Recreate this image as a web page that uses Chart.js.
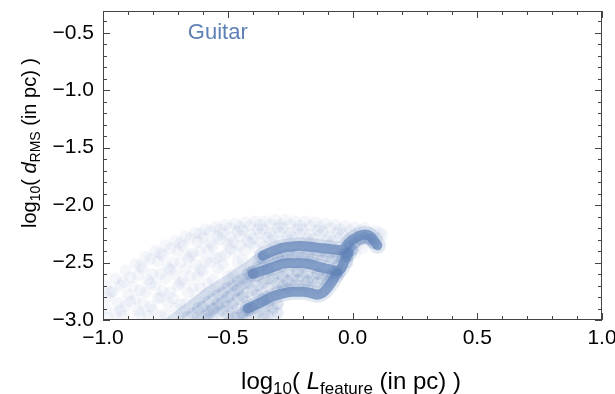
<!DOCTYPE html>
<html>
<head>
<meta charset="utf-8">
<script src="https://cdn.jsdelivr.net/npm/chart.js@4.4.0/dist/chart.umd.min.js"></script>
<style>
  html, body { margin: 0; padding: 0; background: #fff; }
  #wrap { width: 615px; height: 394px; }
</style>
</head>
<body>
<div id="wrap"><canvas id="myChart" width="615" height="394"></canvas></div>
<script>
// tick labels
const xTicks = [-1.0, -0.5, 0.0, 0.5, 1.0];
const yTicks = [-3.0, -2.5, -2.0, -1.5, -1.0, -0.5];

// thin cloud of points (log10 L, log10 d)
const cloudPoints = [
  [-0.99,-2.70],[-0.98,-2.80],[-0.99,-2.90],[-0.98,-2.98],
  [-0.95,-2.64],[-0.96,-2.75],[-0.94,-2.85],[-0.95,-2.94],
  [-0.91,-2.57],[-0.92,-2.67],[-0.90,-2.78],[-0.91,-2.88],[-0.92,-2.97],
  [-0.87,-2.51],[-0.86,-2.61],[-0.88,-2.71],[-0.87,-2.82],[-0.86,-2.92],
  [-0.83,-2.45],[-0.84,-2.55],[-0.82,-2.65],[-0.83,-2.76],[-0.84,-2.86],[-0.82,-2.96],
  [-0.79,-2.40],[-0.78,-2.49],[-0.80,-2.60],[-0.79,-2.70],[-0.78,-2.81],[-0.80,-2.91],
  [-0.75,-2.35],[-0.76,-2.44],[-0.74,-2.54],[-0.75,-2.64],[-0.76,-2.75],[-0.74,-2.85],[-0.75,-2.95],
  [-0.71,-2.31],[-0.70,-2.40],[-0.72,-2.50],[-0.71,-2.60],[-0.70,-2.70],[-0.72,-2.81],[-0.71,-2.90],
  [-0.67,-2.27],[-0.68,-2.36],[-0.66,-2.46],[-0.67,-2.56],[-0.68,-2.66],[-0.66,-2.76],[-0.67,-2.86],[-0.68,-2.97],
  [-0.63,-2.24],[-0.62,-2.32],[-0.64,-2.42],[-0.63,-2.52],[-0.62,-2.62],[-0.64,-2.72],[-0.63,-2.82],[-0.62,-2.92],
  [-0.59,-2.21],[-0.60,-2.29],[-0.58,-2.39],[-0.59,-2.49],[-0.60,-2.58],[-0.58,-2.68],[-0.59,-2.78],[-0.60,-2.88],[-0.58,-2.97],
  [-0.55,-2.19],[-0.54,-2.27],[-0.56,-2.36],[-0.55,-2.46],[-0.54,-2.55],[-0.56,-2.65],[-0.55,-2.75],[-0.54,-2.85],[-0.56,-2.95],
  [-0.51,-2.17],[-0.52,-2.25],[-0.50,-2.34],[-0.51,-2.43],[-0.52,-2.52],[-0.50,-2.62],[-0.51,-2.72],[-0.52,-2.82],[-0.50,-2.92],
  [-0.47,-2.16],[-0.46,-2.23],[-0.48,-2.32],[-0.47,-2.41],[-0.46,-2.50],[-0.48,-2.60],[-0.47,-2.70],[-0.46,-2.80],[-0.48,-2.90],[-0.47,-2.98],
  [-0.43,-2.15],[-0.44,-2.22],[-0.42,-2.31],[-0.43,-2.39],[-0.44,-2.48],[-0.42,-2.58],[-0.43,-2.68],[-0.44,-2.78],[-0.42,-2.88],[-0.43,-2.97],
  [-0.39,-2.14],[-0.38,-2.21],[-0.40,-2.29],[-0.39,-2.37],[-0.38,-2.47],[-0.40,-2.57],[-0.39,-2.67],[-0.38,-2.77],[-0.40,-2.87],[-0.39,-2.96],
  [-0.35,-2.14],[-0.36,-2.21],[-0.34,-2.28],[-0.35,-2.36],[-0.36,-2.46],[-0.34,-2.56],[-0.35,-2.66],[-0.36,-2.76],[-0.34,-2.86],[-0.35,-2.95],
  [-0.31,-2.13],[-0.30,-2.20],[-0.32,-2.27],[-0.31,-2.35],[-0.30,-2.45],[-0.32,-2.62],[-0.31,-2.70],[-0.30,-2.86],[-0.32,-2.94],
  [-0.27,-2.13],[-0.28,-2.20],[-0.26,-2.27],[-0.27,-2.43],[-0.28,-2.60],[-0.26,-2.66],[-0.27,-2.70],
  [-0.23,-2.14],[-0.22,-2.21],[-0.24,-2.28],[-0.23,-2.43],[-0.22,-2.58],[-0.24,-2.65],[-0.23,-2.69],
  [-0.19,-2.14],[-0.20,-2.21],[-0.18,-2.29],[-0.19,-2.43],[-0.20,-2.59],[-0.18,-2.66],[-0.19,-2.69],
  [-0.15,-2.15],[-0.14,-2.22],[-0.16,-2.29],[-0.15,-2.44],[-0.14,-2.60],[-0.16,-2.66],
  [-0.11,-2.16],[-0.12,-2.23],[-0.10,-2.30],[-0.11,-2.45],[-0.12,-2.61],[-0.10,-2.67],
  [-0.07,-2.17],[-0.06,-2.24],[-0.08,-2.31],[-0.07,-2.46],[-0.06,-2.52],[-0.08,-2.62],
  [-0.03,-2.18],[-0.04,-2.25],[-0.02,-2.32],[-0.03,-2.44],[-0.04,-2.53],
  [0.01,-2.19],[0.00,-2.26],[0.02,-2.35],[0.01,-2.42],
  [0.05,-2.20],[0.06,-2.31],[0.04,-2.38],
  [0.09,-2.22],[0.10,-2.29],[0.12,-2.26],
  [-0.97,-2.76],[-0.93,-2.70],[-0.93,-2.92],[-0.89,-2.63],[-0.89,-2.84],[-0.85,-2.53],[-0.85,-2.74],[-0.85,-2.95],
  [-0.81,-2.47],[-0.81,-2.68],[-0.81,-2.88],[-0.77,-2.42],[-0.77,-2.60],[-0.77,-2.80],[-0.77,-2.97],
  [-0.73,-2.38],[-0.73,-2.56],[-0.73,-2.76],[-0.69,-2.33],[-0.69,-2.50],[-0.69,-2.68],[-0.69,-2.86],
  [-0.65,-2.29],[-0.65,-2.44],[-0.65,-2.62],[-0.61,-2.25],[-0.61,-2.40],[-0.61,-2.56],[-0.61,-2.72],
  [-0.57,-2.23],[-0.57,-2.33],[-0.57,-2.50],[-0.53,-2.21],[-0.53,-2.30],[-0.53,-2.45],
  [-0.49,-2.20],[-0.49,-2.28],[-0.49,-2.38],[-0.45,-2.19],[-0.45,-2.27],[-0.45,-2.35],
  [-0.41,-2.18],[-0.41,-2.25],[-0.41,-2.33],[-0.37,-2.17],[-0.37,-2.25],[-0.37,-2.32],
  [-0.33,-2.17],[-0.33,-2.24],[-0.33,-2.31],[-0.29,-2.17],[-0.29,-2.24],[-0.29,-2.31],
  [-0.25,-2.17],[-0.25,-2.24],[-0.25,-2.31],[-0.21,-2.18],[-0.21,-2.25],[-0.21,-2.31],
  [-0.17,-2.18],[-0.17,-2.25],[-0.17,-2.32],[-0.13,-2.19],[-0.13,-2.26],[-0.13,-2.33],
  [-0.09,-2.20],[-0.09,-2.27],[-0.09,-2.34],[-0.05,-2.21],[-0.05,-2.28],[-0.05,-2.35],
  [-0.01,-2.22],[-0.01,-2.29],[0.03,-2.22],[0.07,-2.24],[0.11,-2.24]
];

// denser wedge under the bands
const wedgePoints = [
  [-0.66,-2.97],
  [-0.62,-2.90],[-0.62,-2.97],
  [-0.58,-2.84],[-0.58,-2.92],[-0.58,-2.99],
  [-0.54,-2.78],[-0.54,-2.86],[-0.54,-2.94],
  [-0.50,-2.72],[-0.50,-2.80],[-0.50,-2.88],[-0.50,-2.96],
  [-0.46,-2.66],[-0.46,-2.74],[-0.46,-2.82],[-0.46,-2.90],[-0.46,-2.98],
  [-0.42,-2.60],[-0.42,-2.68],[-0.42,-2.76],[-0.42,-2.84],[-0.42,-2.92],[-0.42,-2.99],
  [-0.38,-2.54],[-0.38,-2.62],[-0.38,-2.70],[-0.38,-2.78],[-0.38,-2.86],[-0.38,-2.94],
  [-0.34,-2.48],[-0.34,-2.56],[-0.34,-2.64],[-0.34,-2.72],[-0.34,-2.80],[-0.34,-2.88],[-0.34,-2.96],
  [-0.30,-2.45],[-0.30,-2.60],[-0.30,-2.68],[-0.30,-2.74],[-0.30,-2.86],[-0.30,-2.94],
  [-0.26,-2.43],[-0.26,-2.58],[-0.26,-2.66],[-0.26,-2.72],
  [-0.22,-2.42],[-0.22,-2.58],[-0.22,-2.65],[-0.22,-2.70],
  [-0.18,-2.43],[-0.18,-2.59],[-0.18,-2.66],[-0.18,-2.71],
  [-0.14,-2.44],[-0.14,-2.60],[-0.14,-2.67],[-0.14,-2.72],
  [-0.10,-2.45],[-0.10,-2.61],[-0.10,-2.66],
  [-0.06,-2.45],[-0.06,-2.52],[-0.06,-2.62],
  [-0.02,-2.44],[-0.02,-2.50],[-0.04,-2.45],
  [-0.64,-2.94],[-0.60,-2.88],[-0.56,-2.82],[-0.56,-2.90],[-0.52,-2.76],[-0.52,-2.92],
  [-0.48,-2.70],[-0.48,-2.86],[-0.44,-2.64],[-0.44,-2.80],[-0.44,-2.95],[-0.40,-2.58],
  [-0.40,-2.74],[-0.40,-2.90],[-0.36,-2.52],[-0.36,-2.68],[-0.36,-2.82],[-0.36,-2.97],
  [-0.32,-2.47],[-0.32,-2.64],[-0.32,-2.90],[-0.28,-2.45],[-0.28,-2.62],[-0.28,-2.70],
  [-0.24,-2.44],[-0.24,-2.62],[-0.20,-2.45],[-0.20,-2.62],[-0.16,-2.46],[-0.16,-2.63],
  [-0.12,-2.47],[-0.12,-2.64],[-0.08,-2.47],[-0.08,-2.60]
];

// faint stripes running down to the lower left, one per track
const stripeTop = [
  [-0.73,-3.02],[-0.69,-2.95],[-0.66,-2.90],[-0.63,-2.85],[-0.60,-2.80],[-0.57,-2.75],
  [-0.54,-2.71],[-0.51,-2.67],[-0.48,-2.63],[-0.45,-2.58],[-0.42,-2.54],[-0.39,-2.49],[-0.36,-2.44]
];
const stripeMid = [
  [-0.62,-3.02],[-0.60,-2.98],[-0.57,-2.93],[-0.54,-2.88],[-0.51,-2.83],[-0.48,-2.77],
  [-0.45,-2.71],[-0.42,-2.65],[-0.40,-2.60]
];
const stripeLow = [
  [-0.50,-3.02],[-0.47,-2.97],[-0.45,-2.95],[-0.42,-2.90]
];

// the three dense tracks
const topBand = [
  [-0.36,-2.44],[-0.34,-2.42],[-0.32,-2.40],[-0.30,-2.385],[-0.28,-2.37],[-0.26,-2.365],
  [-0.24,-2.36],[-0.22,-2.355],[-0.20,-2.355],[-0.18,-2.36],[-0.16,-2.365],[-0.14,-2.37],
  [-0.12,-2.375],[-0.10,-2.38],[-0.08,-2.385],[-0.06,-2.39],[-0.04,-2.39],[-0.03,-2.37],
  [-0.02,-2.34],[-0.01,-2.32],[0.00,-2.30],[0.01,-2.29],[0.02,-2.275],[0.03,-2.265],
  [0.04,-2.26],[0.05,-2.255],[0.06,-2.26],[0.07,-2.27],[0.08,-2.29],[0.09,-2.32],[0.10,-2.35]
];
const hookPoints = [
  [-0.01,-2.36],[0.01,-2.33],[0.03,-2.30],[0.05,-2.29],[0.07,-2.30],[0.085,-2.33],
  [-0.03,-2.42],[-0.02,-2.45],[0.00,-2.39]
];
const midBand = [
  [-0.40,-2.60],[-0.38,-2.585],[-0.36,-2.57],[-0.34,-2.555],[-0.32,-2.54],[-0.30,-2.525],
  [-0.28,-2.51],[-0.26,-2.505],[-0.24,-2.505],[-0.22,-2.505],[-0.20,-2.505],[-0.18,-2.51],
  [-0.16,-2.52],[-0.14,-2.535],[-0.12,-2.545],[-0.10,-2.555],[-0.08,-2.565],[-0.06,-2.575],
  [-0.045,-2.55],[-0.035,-2.50],[-0.025,-2.45],[-0.015,-2.41]
];
const lowBand = [
  [-0.42,-2.90],[-0.40,-2.88],[-0.38,-2.86],[-0.36,-2.84],[-0.34,-2.815],[-0.32,-2.795],
  [-0.30,-2.78],[-0.28,-2.77],[-0.26,-2.76],[-0.24,-2.755],[-0.22,-2.755],[-0.20,-2.755],
  [-0.18,-2.76],[-0.16,-2.77],[-0.14,-2.78],[-0.12,-2.765],[-0.10,-2.72],[-0.09,-2.69],
  [-0.08,-2.66],[-0.07,-2.62],[-0.06,-2.59]
];

const blue = 'rgba(94,129,181,';

function toXY(list) {
  return list.map(p => ({ x: p[0], y: p[1] }));
}

function ds(list, alpha, r) {
  return {
    data: toXY(list),
    backgroundColor: blue + alpha + ')',
    pointBackgroundColor: blue + alpha + ')',
    pointBorderWidth: 0,
    borderWidth: 0,
    pointRadius: r,
    clip: 0
  };
}

// dense track: the points overlap so much they read as a thick stroke
function track(list, alpha, w) {
  return {
    data: toXY(list),
    showLine: true,
    borderColor: blue + alpha + ')',
    borderWidth: w,
    borderCapStyle: 'round',
    borderJoinStyle: 'round',
    tension: 0.35,
    pointRadius: 0,
    clip: 0
  };
}

function fmt(v) {
  return (v < 0 ? '\u2212' : '') + Math.abs(v).toFixed(1);
}

// text with subscripts, drawn piece by piece
function drawRich(ctx, parts, x, y) {
  let total = 0;
  parts.forEach(p => {
    ctx.font = (p.it ? 'italic ' : '') + p.size + 'px "Liberation Sans", Arial, sans-serif';
    p.w = ctx.measureText(p.t).width;
    total += p.w;
  });
  let cx = x - total / 2;
  ctx.textAlign = 'left';
  ctx.textBaseline = 'alphabetic';
  parts.forEach(p => {
    ctx.font = (p.it ? 'italic ' : '') + p.size + 'px "Liberation Sans", Arial, sans-serif';
    ctx.fillText(p.t, cx, y + (p.dy || 0));
    cx += p.w;
  });
}

const xTitle = [
  { t: 'log', size: 24 }, { t: '10', size: 17, dy: 5 }, { t: '( ', size: 24 },
  { t: 'L', size: 24, it: true }, { t: 'feature', size: 17, dy: 5 }, { t: ' (in pc) )', size: 24 }
];
const yTitle = [
  { t: 'log', size: 20 }, { t: '10', size: 14, dy: 4 }, { t: '( ', size: 20 },
  { t: 'd', size: 20, it: true }, { t: 'RMS', size: 14, dy: 4 }, { t: ' (in pc) )', size: 20 }
];

const framePlugin = {
  id: 'frame',
  afterDraw(chart) {
    const ctx = chart.ctx;
    const a = chart.chartArea;
    const xs = chart.scales.x;
    const ys = chart.scales.y;
    ctx.save();
    ctx.strokeStyle = '#444';
    ctx.lineWidth = 1;
    ctx.strokeRect(a.left + 0.5, a.top + 0.5, a.right - a.left - 1, a.bottom - a.top - 1);

    ctx.beginPath();
    for (let i = -10; i <= 10; i++) {
      const px = Math.round(xs.getPixelForValue(i / 10)) + 0.5;
      const len = i % 5 === 0 ? 7 : 4;
      ctx.moveTo(px, a.bottom); ctx.lineTo(px, a.bottom - len);
      ctx.moveTo(px, a.top); ctx.lineTo(px, a.top + len);
    }
    for (let i = -30; i <= -4; i++) {
      const py = Math.round(ys.getPixelForValue(i / 10)) + 0.5;
      const len = i % 5 === 0 ? 7 : 4;
      ctx.moveTo(a.left, py); ctx.lineTo(a.left + len, py);
      ctx.moveTo(a.right, py); ctx.lineTo(a.right - len, py);
    }
    ctx.stroke();

    ctx.fillStyle = '#000';
    drawRich(ctx, xTitle, 351, 389);
    ctx.translate(36, 143);
    ctx.rotate(-Math.PI / 2);
    drawRich(ctx, yTitle, 0, 0);
    ctx.setTransform(1, 0, 0, 1, 0, 0);

    ctx.fillStyle = 'rgb(94,129,181)';
    ctx.font = '22px "Liberation Sans", Arial, sans-serif';
    ctx.textAlign = 'center';
    ctx.textBaseline = 'middle';
    ctx.fillText('Guitar', xs.getPixelForValue(-0.54), ys.getPixelForValue(-0.5));
    ctx.restore();
  }
};

const ctx = document.getElementById('myChart').getContext('2d');
const myChart = new Chart(ctx, {
  type: 'scatter',
  data: {
    datasets: [
      ds(cloudPoints, 0.07, 6),
      ds(wedgePoints, 0.15, 6),
      track(stripeTop, 0.22, 11),
      track(stripeMid, 0.22, 11),
      track(stripeLow, 0.22, 11),
      ds(hookPoints, 0.3, 6),
      track(topBand, 0.18, 17),
      track(midBand, 0.18, 16),
      track(lowBand, 0.18, 16),
      track(topBand, 0.72, 10),
      track(midBand, 0.72, 10),
      track(lowBand, 0.72, 10)
    ]
  },
  options: {
    responsive: false,
    animation: false,
    layout: { padding: { top: 11, right: 13, left: 0, bottom: 0 } },
    plugins: { legend: { display: false }, tooltip: { enabled: false } },
    scales: {
      x: {
        type: 'linear', min: -1, max: 1,
        grid: { display: false, drawTicks: false },
        border: { display: false },
        afterBuildTicks: s => { s.ticks = xTicks.map(v => ({ value: v })); },
        afterFit: s => { s.height = 74; s.paddingLeft = 0; s.paddingRight = 0; },
        ticks: {
          color: '#000', padding: 6,
          font: { family: '"Liberation Sans", Arial, sans-serif', size: 21 },
          callback: v => fmt(v)
        }
      },
      y: {
        type: 'linear', min: -3, max: -0.31,
        grid: { display: false, drawTicks: false },
        border: { display: false },
        afterBuildTicks: s => { s.ticks = yTicks.map(v => ({ value: v })); },
        afterFit: s => { s.width = 103; s.paddingTop = 0; s.paddingBottom = 0; },
        ticks: {
          color: '#000', padding: 9,
          font: { family: '"Liberation Sans", Arial, sans-serif', size: 21 },
          callback: v => fmt(v)
        }
      }
    }
  },
  plugins: [framePlugin]
});
</script>
</body>
</html>
